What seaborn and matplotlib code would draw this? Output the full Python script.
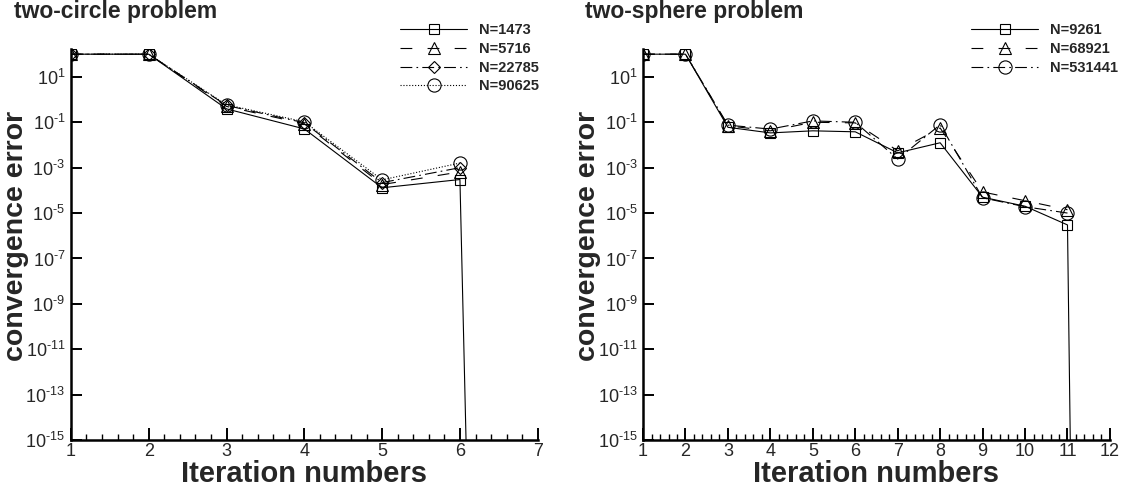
import numpy as np
import pandas as pd
import matplotlib
matplotlib.use("Agg")
import matplotlib.pyplot as plt
import seaborn as sns
from matplotlib.ticker import FixedLocator, MultipleLocator, NullLocator, FuncFormatter

# ---------------- data ----------------
circle_iters = [1, 2, 3, 4, 5, 6, 7]
circle_labels = ["N=1473", "N=5716", "N=22785", "N=90625"]
circle_N1473 = [100, 100, 0.39, 0.051, 1.3e-4, 3.0e-4, 1e-150]
circle_N5716 = [100, 100, 0.50, 0.085, 1.8e-4, 6.5e-4]
circle_N22785 = [100, 100, 0.55, 0.095, 2.2e-4, 1.0e-3]
circle_N90625 = [100, 100, 0.59, 0.105, 2.9e-4, 1.6e-3]

sphere_iters = [1, 2, 3, 4, 5, 6, 7, 8, 9, 10, 11, 12]
sphere_labels = ["N=9261", "N=68921", "N=531441"]
sphere_N9261 = [100, 100, 0.060, 0.034, 0.042, 0.038, 4.5e-3, 0.0125, 5.0e-5, 2.0e-5, 3.0e-6, 1e-150]
sphere_N68921 = [100, 100, 0.070, 0.042, 0.100, 0.094, 5.5e-3, 0.056, 8.5e-5, 3.5e-5, 1.4e-5]
sphere_N531441 = [100, 100, 0.075, 0.050, 0.115, 0.100, 2.4e-3, 0.078, 4.7e-5, 1.9e-5, 1.0e-5]

y_tick_exponents = [1, -1, -3, -5, -7, -9, -11, -13, -15]
circle_xticks = [1, 2, 3, 4, 5, 6, 7]
sphere_xticks = [1, 2, 3, 4, 5, 6, 7, 8, 9, 10, 11, 12]

# ---------------- style ----------------
sns.set_theme(style="white")
plt.rcParams["font.family"] = ["Liberation Sans", "DejaVu Sans"]
plt.rcParams["mathtext.fontset"] = "custom"
plt.rcParams["mathtext.rm"] = "Liberation Sans"
plt.rcParams["mathtext.it"] = "Liberation Sans:italic"
plt.rcParams["mathtext.bf"] = "Liberation Sans:bold"
plt.rcParams["lines.scale_dashes"] = False

SOLID = "-"
DASHED = (0, (8.5, 11))
DASHDOT = (0, (8.5, 3, 1.2, 3))
DOTTED = (0, (0.8, 1.3))

fig = plt.figure(figsize=(11.25, 4.9), dpi=100)
ax1 = fig.add_axes([0.063, 0.102, 0.415, 0.799])
ax2 = fig.add_axes([0.5716, 0.102, 0.415, 0.799])


def exp_label(v, p):
    e = int(round(np.log10(v)))
    if e < 0:
        return r"$\mathdefault{10^{\text{-}%d}}$" % (-e)
    return r"$\mathdefault{10^{%d}}$" % e


def draw(ax, iters, series, labels, styles, xticks, title, title_x, leg_x):
    handles = []
    for vals, lab, (marker, ms, ls) in zip(series, labels, styles):
        x = iters[:len(vals)]
        n_before = len(ax.lines)
        sns.lineplot(x=x, y=vals, ax=ax, color="black", linewidth=0.8,
                     linestyle=ls, marker=marker, markersize=ms,
                     markerfacecolor="none", markeredgecolor="black",
                     markeredgewidth=0.8, sort=False, estimator=None)
        handles.append(ax.lines[n_before])
    ax.set_yscale("log")
    ax.set_ylim(1e-15, 10 ** 2.25)
    ax.set_xlim(xticks[0], xticks[-1])
    ax.yaxis.set_major_locator(FixedLocator([10.0 ** e for e in y_tick_exponents]))
    ax.yaxis.set_minor_locator(NullLocator())
    ax.yaxis.set_major_formatter(FuncFormatter(exp_label))
    ax.xaxis.set_major_locator(FixedLocator(xticks))
    ax.xaxis.set_minor_locator(MultipleLocator(0.2))
    ax.tick_params(axis="x", which="major", direction="in", length=9, width=1.4,
                   labelsize=13, pad=2, bottom=True, top=False, color="black")
    ax.tick_params(axis="x", which="minor", direction="in", length=4.5, width=1.0,
                   bottom=True, top=False, color="black")
    ax.tick_params(axis="y", which="major", direction="in", length=8, width=1.4,
                   labelsize=13, pad=4, left=True, right=False, color="black")
    for s in ["top", "right"]:
        ax.spines[s].set_visible(False)
    for s in ["left", "bottom"]:
        ax.spines[s].set_linewidth(1.8)
        ax.spines[s].set_color("black")
    ax.set_xlabel("Iteration numbers", fontsize=21, fontweight="bold")
    ax.set_ylabel("convergence error", fontsize=20.5, fontweight="bold")
    ax.xaxis.set_label_coords(0.5, -0.05)
    ax.yaxis.set_label_coords(-0.09, 0.52)
    ax.grid(False)
    ax.legend(handles=handles, labels=labels, loc="upper right",
              bbox_to_anchor=(leg_x, 1.08), frameon=False,
              prop={"weight": "bold", "size": 10.5}, handlelength=4.6,
              handletextpad=0.8, labelspacing=0.33, borderaxespad=0.0)
    fig.text(title_x, 0.963, title, fontsize=16.5, fontweight="bold",
             ha="left", va="baseline")


draw(ax1, circle_iters,
     [circle_N1473, circle_N5716, circle_N22785, circle_N90625], circle_labels,
     [("s", 7, SOLID), ("^", 8.5, DASHED), ("D", 6.2, DASHDOT), ("o", 9.5, DOTTED)],
     circle_xticks, "two-circle problem", 0.012, 1.015)
draw(ax2, sphere_iters,
     [sphere_N9261, sphere_N68921, sphere_N531441], sphere_labels,
     [("s", 7, SOLID), ("^", 8.5, DASHED), ("o", 9.5, DASHDOT)],
     sphere_xticks, "two-sphere problem", 0.52, 1.03)

fig.savefig("out.png", dpi=100)
